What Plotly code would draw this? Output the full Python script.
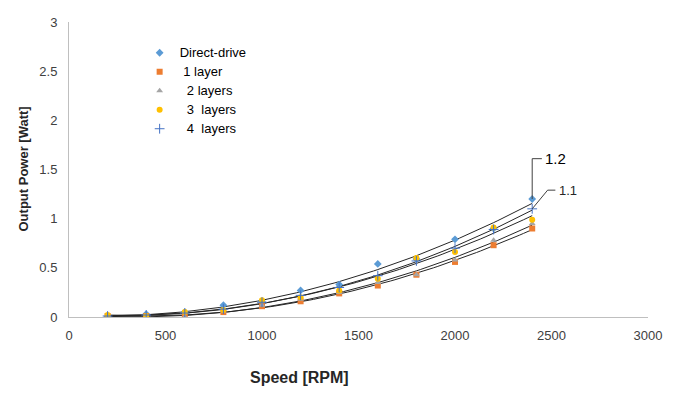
import numpy as np
import plotly.graph_objects as go

speed = [200, 400, 600, 800, 1000, 1200, 1400, 1600, 1800, 2000, 2200, 2400]
direct_drive = [0.00, 0.03, 0.05, 0.12, 0.16, 0.27, 0.33, 0.54, 0.59, 0.79, 0.90, 1.20]
layer1 = [0.01, 0.01, 0.02, 0.05, 0.11, 0.16, 0.24, 0.32, 0.43, 0.56, 0.73, 0.90]
layer2 = [0.00, 0.00, 0.00, 0.06, 0.12, 0.18, 0.25, 0.35, 0.43, 0.58, 0.78, 0.95]
layer3 = [0.02, 0.01, 0.05, 0.07, 0.17, 0.20, 0.27, 0.39, 0.60, 0.66, 0.91, 0.99]
layer4 = [0.01, 0.02, 0.04, 0.08, 0.15, 0.22, 0.30, 0.42, 0.57, 0.70, 0.89, 1.10]

names = ["Direct-drive", " 1 layer", "  2 layers", "  3  layers", "  4  layers"]
series = [direct_drive, layer1, layer2, layer3, layer4]
colors = ["#5B9BD5", "#ED7D31", "#A5A5A5", "#FFC000", "#4472C4"]
symbols = ["diamond", "square", "triangle-up", "circle", "cross-thin"]

font = "Liberation Sans"
fig = go.Figure()

# polynomial (order 2) trendlines
xs = np.linspace(speed[0], speed[-1], 100)
for vals in series:
    c = np.polyfit(speed, vals, 2)
    fig.add_trace(go.Scatter(x=xs, y=np.polyval(c, xs), mode="lines",
                             line=dict(color="#262626", width=1), showlegend=False,
                             hoverinfo="skip"))

for name, vals, col, sym in zip(names, series, colors, symbols):
    mk = dict(color=col, symbol=sym, size=6)
    if sym == "cross-thin":
        mk = dict(color=col, symbol=sym, size=7, line=dict(color=col, width=1))
    label = f"<span style='font-size:13px'>{name}</span>"
    fig.add_trace(go.Scatter(x=speed, y=vals, mode="markers", name=label, marker=mk))

# leader lines for data labels
x_end = speed[-1]
fig.add_shape(type="path", xref="x", yref="y",
              path=f"M {x_end},{direct_drive[-1]} L {x_end},1.61 L 2450,1.61",
              line=dict(color="#404040", width=1))
fig.add_shape(type="path", xref="x", yref="y",
              path=f"M {x_end},{layer4[-1]} L 2480,1.29 L 2520,1.29",
              line=dict(color="#404040", width=1))

fig.add_annotation(xref="x", yref="y", x=2455, y=1.61,
                   text="1.2", showarrow=False, xanchor="left",
                   font=dict(size=15, color="#000000", family=font))
fig.add_annotation(xref="x", yref="y", x=2530, y=1.29,
                   text="1.1", showarrow=False, xanchor="left",
                   font=dict(size=13, color="#262626", family=font))

# axis titles (placed as in the reference)
fig.add_annotation(xref="paper", yref="paper", x=(299 - 69) / 579, y=-(379 - 317) / 302,
                   text="<b>Speed [RPM]</b>", showarrow=False, xanchor="center", yanchor="middle",
                   font=dict(size=16, color="#262626", family=font))
fig.add_annotation(xref="paper", yref="paper", x=-(69 - 23) / 579, y=(317 - 166) / 302,
                   text="<b>Output Power [Watt]</b>", showarrow=False, textangle=-90,
                   xanchor="center", yanchor="middle",
                   font=dict(size=13, color="#262626", family=font))

fig.update_layout(
    width=668, height=385,
    margin=dict(l=61, r=28, t=7, b=76),
    paper_bgcolor="white", plot_bgcolor="white",
    font=dict(family=font, size=13, color="#404040"),
    showlegend=True,
    legend=dict(x=0.122, y=0.945, xanchor="left", yanchor="top",
                bgcolor="rgba(0,0,0,0)", font=dict(size=11, color="#000000"),
                tracegroupgap=0),
    xaxis=dict(range=[0, 3000], tickvals=[0, 500, 1000, 1500, 2000, 2500, 3000],
               showgrid=False, zeroline=False, showline=True, linecolor="#BFBFBF",
               ticks="", ticklabelstandoff=6, ticklabeloverflow="allow"),
    yaxis=dict(range=[0, 3], tickvals=[0, 0.5, 1, 1.5, 2, 2.5, 3],
               showgrid=False, zeroline=False, showline=True, linecolor="#BFBFBF",
               ticks="", ticklabelstandoff=8, ticklabeloverflow="allow"),
)

fig.write_html("out.html")
